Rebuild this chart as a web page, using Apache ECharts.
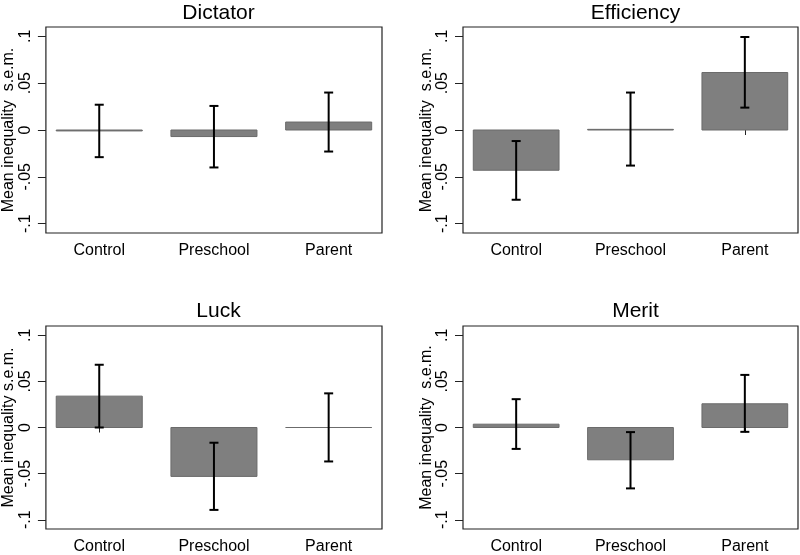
<!DOCTYPE html>
<html><head><meta charset="utf-8">
<script src="https://cdn.jsdelivr.net/npm/echarts@6/dist/echarts.min.js"></script>
<style>html,body{margin:0;padding:0;background:#fff}#c{width:800px;height:555px}</style>
</head><body><div id="c"></div>
<script>
const categories = ['Control', 'Preschool', 'Parent'];
const panelTitles = ['Dictator', 'Efficiency', 'Luck', 'Merit'];
const yTicks = [-0.1, -0.05, 0, 0.05, 0.1];
const yTickLabels = ['-.1', '-.05', '0', '.05', '.1'];
const yAxisTitle = 'Mean inequality  s.e.m.';

const dictatorMean = [-0.001, -0.007, 0.0085];
const dictatorLow  = [-0.029, -0.040, -0.023];
const dictatorHigh = [0.027, 0.0257, 0.040];

const efficiencyMean = [-0.043, 0.0007, 0.0614];
const efficiencyLow  = [-0.0745, -0.038, 0.0239];
const efficiencyHigh = [-0.0118, 0.040, 0.0993];

const luckMean = [0.034, -0.053, 0.0];
const luckLow  = [0.0, -0.0893, -0.0368];
const luckHigh = [0.068, -0.0165, 0.037];

const meritMean = [0.0036, -0.035, 0.0257];
const meritLow  = [-0.0232, -0.066, -0.0047];
const meritHigh = [0.0307, -0.005, 0.057];

const panels = [
  {mean: dictatorMean, low: dictatorLow, high: dictatorHigh},
  {mean: efficiencyMean, low: efficiencyLow, high: efficiencyHigh},
  {mean: luckMean, low: luckLow, high: luckHigh},
  {mean: meritMean, low: meritLow, high: meritHigh}
];

const grids = [
  {left: 45, top: 27, width: 337, height: 206},
  {left: 463, top: 27, width: 335, height: 206},
  {left: 45, top: 326, width: 337, height: 207},
  {left: 463, top: 326, width: 335, height: 207}
];
const titleTops = [-2, -2, 296, 296];
const FONT = '"Liberation Sans", Arial, Helvetica, sans-serif';
const BAR_W = 0.75;
const CAP_PX = 9;

const option = {
  animation: false,
  backgroundColor: '#fff',
  title: grids.map((g, i) => ({
    text: panelTitles[i],
    left: g.left + g.width / 2,
    top: titleTops[i],
    textAlign: 'center',
    textStyle: {fontFamily: FONT, fontSize: 21, fontWeight: 'normal', color: '#000'}
  })),
  grid: grids.map(g => Object.assign({show: true, borderColor: '#222', borderWidth: 1.2, backgroundColor: '#fff'}, g)),
  xAxis: grids.map((g, i) => ({
    type: 'value', gridIndex: i, min: 0.535, max: 3.465,
    splitLine: {show: false}, axisLine: {show: false},
    axisTick: {show: true, customValues: [1, 2, 3], length: 5, lineStyle: {color: '#222'}},
    axisLabel: {customValues: [1, 2, 3], formatter: v => categories[Math.round(v) - 1],
      fontFamily: FONT, fontSize: 16, color: '#000', margin: 10}
  })),
  yAxis: grids.map((g, i) => ({
    type: 'value', gridIndex: i, min: -0.11, max: 0.11,
    name: (i === 2 ? 'Mean inequality s.e.m.' : yAxisTitle),
    nameLocation: 'middle', nameGap: 28, nameRotate: 90,
    nameTextStyle: {fontFamily: FONT, fontSize: 16, color: '#000'},
    splitLine: {show: false}, axisLine: {show: false},
    axisTick: {show: true, customValues: yTicks, length: 8, lineStyle: {color: '#222'}},
    axisLabel: {customValues: yTicks, rotate: 90, margin: 12,
      formatter: v => { const k = yTicks.findIndex(t => Math.abs(t - v) < 1e-9); return k >= 0 ? yTickLabels[k] : ''; },
      fontFamily: FONT, fontSize: 16, color: '#000'}
  })),
  series: []
};

panels.forEach((p, i) => {
  const barData = p.mean.map((m, k) => [k + 1, m]);
  const errData = p.mean.map((m, k) => [k + 1, p.low[k], p.high[k]]);
  option.series.push({
    type: 'custom', xAxisIndex: i, yAxisIndex: i, data: barData, z: 2,
    renderItem: (params, api) => {
      const x = api.value(0), m = api.value(1);
      const a = api.coord([x - BAR_W / 2, Math.max(m, 0)]);
      const b = api.coord([x + BAR_W / 2, Math.min(m, 0)]);
      return {type: 'rect', shape: {x: a[0], y: a[1], width: b[0] - a[0], height: b[1] - a[1]},
        style: {fill: '#7f7f7f', stroke: '#6b6b6b', lineWidth: 1}};
    }
  });
  option.series.push({
    type: 'custom', xAxisIndex: i, yAxisIndex: i, data: errData, z: 3,
    renderItem: (params, api) => {
      const x = api.value(0);
      const lo = api.coord([x, api.value(1)]);
      const hi = api.coord([x, api.value(2)]);
      const st = {stroke: '#000', lineWidth: 2};
      return {type: 'group', children: [
        {type: 'line', shape: {x1: lo[0], y1: lo[1], x2: hi[0], y2: hi[1]}, style: st},
        {type: 'line', shape: {x1: lo[0] - CAP_PX / 2, y1: lo[1], x2: lo[0] + CAP_PX / 2, y2: lo[1]}, style: st},
        {type: 'line', shape: {x1: hi[0] - CAP_PX / 2, y1: hi[1], x2: hi[0] + CAP_PX / 2, y2: hi[1]}, style: st}
      ]};
    }
  });
});

const chart = echarts.init(document.getElementById('c'), null, {renderer: 'canvas'});
chart.setOption(option);
</script>
</body></html>
